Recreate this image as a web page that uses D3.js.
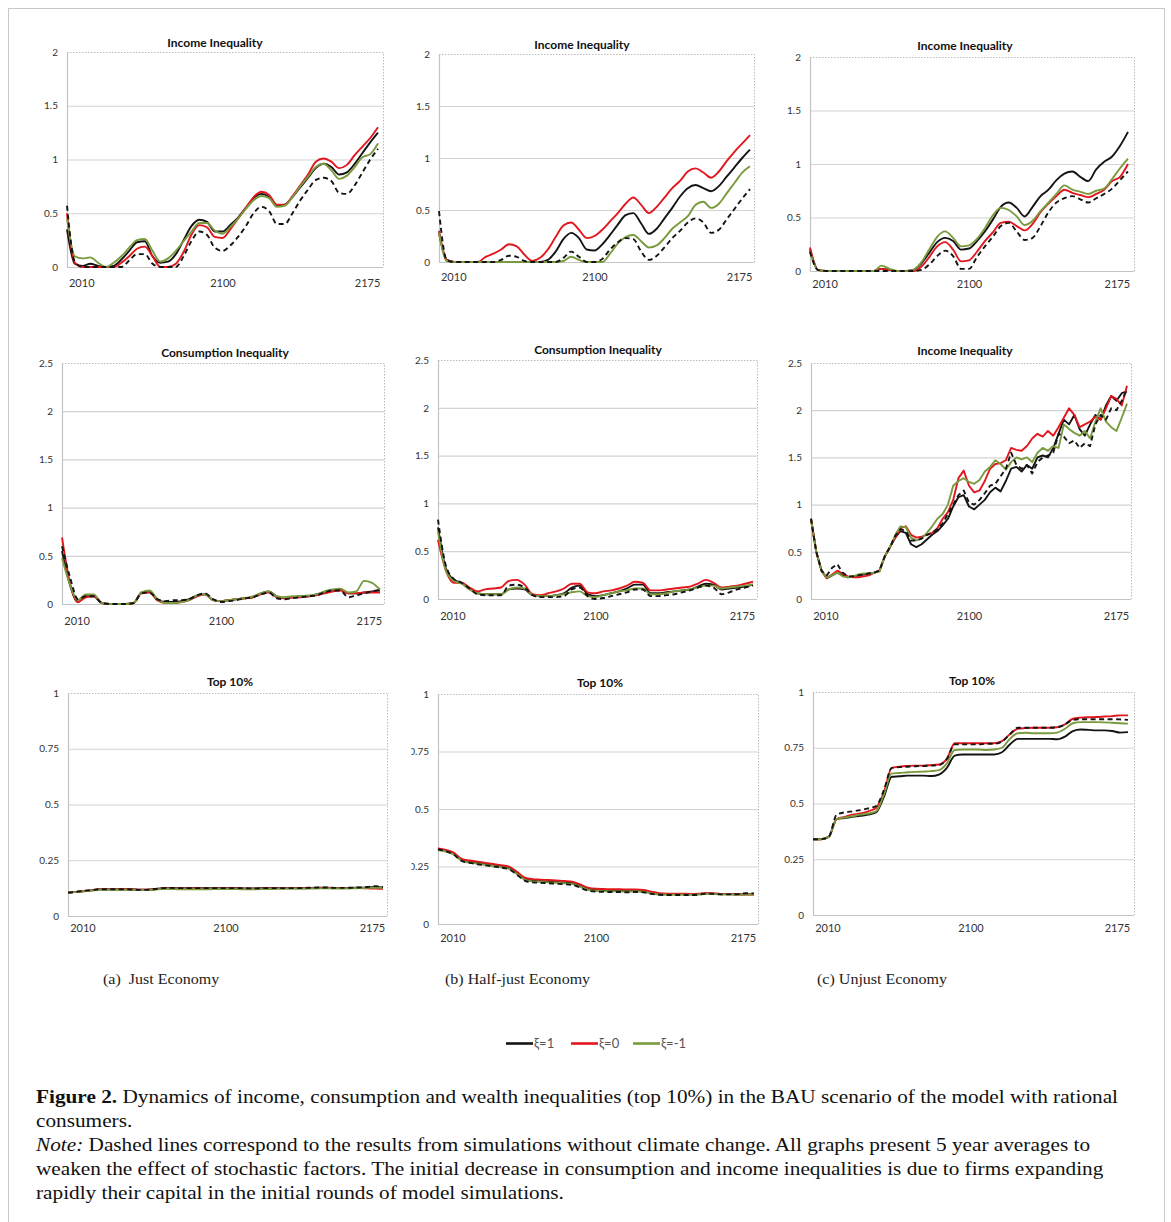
<!DOCTYPE html>
<html>
<head>
<meta charset="utf-8">
<script src="https://cdn.jsdelivr.net/npm/d3@7"></script>
<style>
  html, body { margin: 0; padding: 0; background: #fff; }
  svg { display: block; }
</style>
</head>
<body>
<svg id="fig" width="1171" height="1222"></svg>
<script>
// ---- series legend / economy labels ----
const seriesNames = ["ξ=1", "ξ=0", "ξ=-1"];
const economyLabels = ["(a)  Just Economy", "(b) Half-just Economy", "(c) Unjust Economy"];
const xTickLabels = ["2010", "2100", "2175"];
const xTickPeriods = [11, 120, 231.6];   // simulation period at which each year label sits

// smooth panels are sampled every 6 periods (41 points), the noisy panel every 4 (61 points)
const coarsePeriods = d3.range(0, 241, 6);
const finePeriods = d3.range(0, 241, 4);

// ---- (a) Just economy: income inequality ----
const justIncomeXi1 = [0.35,0.03,0.01,0.03,0.01,0,0.01,0.07,0.15,0.23,0.24,0.1,0.04,0.05,0.12,0.25,0.38,0.44,0.42,0.33,0.33,0.39,0.46,0.55,0.64,0.68,0.65,0.57,0.58,0.65,0.74,0.83,0.92,0.96,0.93,0.86,0.88,0.96,1.06,1.16,1.25];
const justIncomeXi0 = [0.5,0.04,0,0,0,0,0,0.04,0.1,0.17,0.19,0.1,0,0,0.03,0.14,0.3,0.39,0.37,0.28,0.27,0.35,0.45,0.55,0.65,0.7,0.67,0.58,0.58,0.66,0.76,0.86,0.98,1.01,0.98,0.92,0.95,1.04,1.12,1.2,1.3];
const justIncomeXiM1 = [0.45,0.1,0.08,0.09,0.04,0,0.04,0.1,0.18,0.25,0.26,0.15,0.05,0.08,0.15,0.24,0.33,0.41,0.41,0.34,0.31,0.37,0.45,0.54,0.62,0.66,0.64,0.56,0.57,0.65,0.75,0.84,0.93,0.96,0.9,0.82,0.85,0.93,1.02,1.05,1.15];
const justIncomeNoCC = [0.57,0.05,0,0,0,0,0,0,0.06,0.12,0.12,0.03,0,0,0,0.1,0.24,0.33,0.3,0.18,0.15,0.2,0.28,0.38,0.5,0.56,0.52,0.4,0.4,0.5,0.62,0.72,0.81,0.83,0.8,0.69,0.68,0.76,0.88,1.0,1.1];

// ---- (b) Half-just economy: income inequality ----
const halfIncomeXi1 = [0.28,0.02,0,0,0,0,0,0,0,0,0,0,0,0,0.02,0.1,0.22,0.28,0.23,0.12,0.11,0.17,0.26,0.36,0.45,0.47,0.37,0.27,0.32,0.42,0.52,0.63,0.71,0.74,0.71,0.68,0.73,0.82,0.91,1.0,1.08];
const halfIncomeXi0 = [0.3,0.02,0,0,0,0,0.05,0.08,0.12,0.17,0.15,0.07,0.01,0.04,0.12,0.24,0.35,0.38,0.31,0.23,0.25,0.31,0.39,0.47,0.56,0.62,0.55,0.47,0.53,0.62,0.71,0.78,0.87,0.9,0.86,0.81,0.87,0.97,1.06,1.14,1.22];
const halfIncomeXiM1 = [0.28,0.01,0,0,0,0,0,0,0,0,0,0,0,0,0,0,0.01,0.05,0.02,0,0,0,0.08,0.18,0.24,0.26,0.2,0.14,0.16,0.23,0.32,0.38,0.44,0.55,0.58,0.52,0.56,0.66,0.76,0.86,0.92];
const halfIncomeNoCC = [0.49,0.02,0,0,0,0,0,0,0.02,0.06,0.05,0.01,0,0,0,0,0.04,0.1,0.05,0,0,0.03,0.12,0.19,0.23,0.22,0.1,0.02,0.06,0.14,0.23,0.3,0.38,0.42,0.38,0.28,0.31,0.41,0.51,0.61,0.7];

// ---- (c) Unjust economy: income inequality ----
const unjustIncomeXi1 = [0.2,0.01,0,0,0,0,0,0,0,0.02,0.01,0,0,0.01,0.07,0.17,0.27,0.31,0.28,0.2,0.21,0.28,0.37,0.48,0.6,0.64,0.59,0.51,0.6,0.7,0.76,0.85,0.91,0.93,0.88,0.84,0.95,1.02,1.07,1.17,1.3];
const unjustIncomeXi0 = [0.22,0.01,0,0,0,0,0,0,0,0.02,0.01,0,0,0,0.04,0.13,0.23,0.27,0.2,0.09,0.1,0.18,0.28,0.36,0.45,0.46,0.42,0.38,0.44,0.55,0.63,0.7,0.76,0.73,0.71,0.69,0.72,0.76,0.84,0.88,1.0];
const unjustIncomeXiM1 = [0.18,0.01,0,0,0,0,0,0,0,0.05,0.02,0,0,0.01,0.08,0.2,0.32,0.37,0.31,0.23,0.24,0.3,0.4,0.52,0.59,0.57,0.51,0.43,0.47,0.56,0.64,0.72,0.8,0.76,0.74,0.72,0.75,0.77,0.86,0.96,1.05];
const unjustIncomeNoCC = [0.18,0.01,0,0,0,0,0,0,0,0,0,0,0,0,0.01,0.06,0.14,0.19,0.14,0.02,0.02,0.13,0.23,0.32,0.42,0.45,0.37,0.29,0.31,0.42,0.55,0.64,0.68,0.7,0.67,0.64,0.68,0.72,0.77,0.85,0.93];

// ---- (a) Just economy: consumption inequality ----
const justConsXi1 = [0.55,0.2,0.02,0.08,0.08,0.01,0,0,0,0.01,0.12,0.13,0.04,0.02,0.02,0.03,0.05,0.09,0.1,0.04,0.03,0.04,0.05,0.06,0.07,0.11,0.13,0.08,0.06,0.07,0.08,0.08,0.1,0.12,0.14,0.15,0.11,0.11,0.12,0.13,0.14];
const justConsXi0 = [0.69,0.22,0.02,0.07,0.08,0.01,0,0,0,0.01,0.11,0.12,0.04,0.01,0.01,0.02,0.04,0.08,0.1,0.04,0.03,0.04,0.05,0.06,0.07,0.1,0.12,0.07,0.06,0.07,0.07,0.08,0.09,0.11,0.13,0.14,0.11,0.11,0.12,0.12,0.12];
const justConsXiM1 = [0.48,0.2,0.04,0.1,0.1,0.01,0,0,0,0.01,0.12,0.14,0.05,0.01,0.01,0.02,0.04,0.09,0.1,0.04,0.03,0.04,0.05,0.06,0.08,0.11,0.13,0.08,0.07,0.08,0.08,0.09,0.1,0.13,0.15,0.16,0.12,0.13,0.24,0.22,0.15];
const justConsNoCC = [0.6,0.28,0.05,0.08,0.08,0.01,0,0,0,0.01,0.11,0.12,0.05,0.03,0.04,0.04,0.05,0.09,0.11,0.05,0.02,0.03,0.04,0.06,0.07,0.1,0.12,0.06,0.05,0.06,0.07,0.08,0.09,0.12,0.14,0.14,0.07,0.09,0.11,0.13,0.15];

// ---- (b) Half-just economy: consumption inequality ----
const halfConsXi1 = [0.75,0.32,0.2,0.17,0.11,0.06,0.05,0.05,0.05,0.1,0.11,0.1,0.04,0.03,0.03,0.04,0.06,0.12,0.14,0.05,0.03,0.04,0.06,0.08,0.11,0.15,0.15,0.06,0.06,0.07,0.08,0.09,0.1,0.13,0.16,0.15,0.1,0.11,0.12,0.13,0.15];
const halfConsXi0 = [0.62,0.3,0.17,0.17,0.12,0.08,0.1,0.11,0.12,0.19,0.2,0.15,0.05,0.04,0.06,0.08,0.11,0.16,0.16,0.07,0.06,0.08,0.09,0.11,0.14,0.18,0.17,0.09,0.09,0.1,0.11,0.12,0.13,0.16,0.2,0.17,0.12,0.13,0.14,0.16,0.18];
const halfConsXiM1 = [0.7,0.3,0.19,0.16,0.1,0.06,0.05,0.05,0.05,0.1,0.12,0.11,0.04,0.03,0.03,0.04,0.05,0.07,0.08,0.03,0.02,0.04,0.06,0.08,0.09,0.11,0.11,0.05,0.05,0.06,0.08,0.09,0.1,0.12,0.14,0.14,0.11,0.12,0.13,0.14,0.15];
const halfConsNoCC = [0.83,0.35,0.21,0.17,0.11,0.05,0.04,0.04,0.04,0.14,0.15,0.12,0.04,0.02,0.02,0.02,0.03,0.1,0.12,0.03,0,0.01,0.03,0.05,0.07,0.1,0.1,0.03,0.03,0.04,0.05,0.07,0.09,0.12,0.14,0.12,0.05,0.07,0.1,0.12,0.14];

// ---- (c) Unjust economy: income inequality, finer sampling ----
const unjustIncome2Xi1 = [0.85,0.5,0.3,0.22,0.25,0.28,0.25,0.23,0.24,0.25,0.26,0.27,0.28,0.3,0.45,0.55,0.65,0.72,0.7,0.58,0.55,0.58,0.63,0.68,0.72,0.78,0.85,0.98,1.08,1.1,0.98,0.95,1.0,1.05,1.13,1.18,1.14,1.25,1.38,1.4,1.35,1.42,1.38,1.5,1.52,1.5,1.6,1.75,1.9,1.85,1.95,1.8,1.73,1.85,1.95,1.9,2.05,2.15,2.1,2.18,2.2];
const unjustIncome2Xi0 = [0.85,0.5,0.3,0.22,0.26,0.3,0.27,0.24,0.23,0.23,0.24,0.25,0.28,0.3,0.45,0.55,0.65,0.75,0.77,0.68,0.65,0.66,0.68,0.7,0.75,0.85,0.92,1.05,1.28,1.36,1.2,1.13,1.15,1.25,1.38,1.43,1.44,1.47,1.6,1.58,1.57,1.62,1.7,1.75,1.72,1.78,1.73,1.82,1.92,2.02,1.95,1.82,1.85,1.88,1.93,1.9,2.02,2.15,2.12,2.05,2.26];
const unjustIncome2XiM1 = [0.85,0.5,0.3,0.23,0.25,0.28,0.24,0.23,0.24,0.26,0.27,0.27,0.28,0.29,0.45,0.55,0.68,0.77,0.76,0.65,0.62,0.64,0.7,0.77,0.85,0.9,1.0,1.2,1.25,1.28,1.24,1.22,1.26,1.35,1.4,1.47,1.43,1.37,1.45,1.5,1.48,1.5,1.45,1.55,1.6,1.57,1.62,1.6,1.85,1.8,1.76,1.73,1.78,1.7,1.88,2.02,1.88,1.82,1.78,1.92,2.07];
const unjustIncome2NoCC = [0.85,0.5,0.3,0.25,0.33,0.37,0.28,0.24,0.24,0.25,0.26,0.27,0.28,0.3,0.45,0.55,0.67,0.74,0.72,0.62,0.62,0.64,0.68,0.7,0.74,0.8,0.9,1.0,1.1,1.15,1.02,1.0,1.05,1.12,1.2,1.22,1.3,1.38,1.55,1.42,1.38,1.42,1.33,1.45,1.5,1.52,1.55,1.75,1.72,1.65,1.68,1.6,1.65,1.62,1.85,1.95,1.9,2.02,2.0,2.1,2.22];

// ---- (a) Just economy: wealth share of the top 10% ----
const justTopXi1 = [0.105,0.108,0.112,0.115,0.12,0.12,0.12,0.12,0.12,0.118,0.118,0.12,0.125,0.125,0.125,0.125,0.125,0.125,0.125,0.125,0.125,0.125,0.124,0.124,0.124,0.125,0.125,0.125,0.125,0.125,0.125,0.126,0.127,0.127,0.125,0.125,0.126,0.127,0.128,0.13,0.128];
const justTopXi0 = [0.105,0.108,0.112,0.115,0.12,0.12,0.12,0.12,0.12,0.118,0.118,0.12,0.124,0.124,0.124,0.124,0.123,0.123,0.122,0.123,0.124,0.124,0.123,0.122,0.122,0.123,0.124,0.124,0.125,0.125,0.125,0.125,0.126,0.126,0.125,0.125,0.125,0.125,0.124,0.123,0.122];
const justTopXiM1 = [0.105,0.107,0.11,0.114,0.118,0.118,0.118,0.118,0.118,0.116,0.116,0.118,0.121,0.121,0.12,0.12,0.12,0.12,0.12,0.121,0.121,0.121,0.12,0.12,0.12,0.121,0.121,0.122,0.122,0.122,0.122,0.123,0.124,0.124,0.123,0.123,0.124,0.125,0.126,0.127,0.127];
const justTopNoCC = [0.105,0.108,0.113,0.116,0.12,0.12,0.12,0.12,0.119,0.117,0.117,0.121,0.125,0.126,0.125,0.125,0.125,0.125,0.125,0.125,0.125,0.125,0.125,0.124,0.124,0.125,0.125,0.125,0.125,0.125,0.126,0.127,0.128,0.128,0.126,0.126,0.127,0.128,0.13,0.134,0.13];

// ---- (b) Half-just economy: wealth share of the top 10% ----
const halfTopXi1 = [0.325,0.318,0.305,0.278,0.27,0.265,0.26,0.255,0.25,0.243,0.22,0.195,0.188,0.186,0.184,0.182,0.18,0.177,0.165,0.152,0.147,0.146,0.145,0.145,0.144,0.144,0.143,0.136,0.131,0.13,0.13,0.13,0.129,0.13,0.133,0.132,0.13,0.13,0.129,0.13,0.13];
const halfTopXi0 = [0.328,0.322,0.31,0.283,0.276,0.271,0.266,0.261,0.256,0.249,0.227,0.201,0.195,0.193,0.191,0.189,0.187,0.184,0.172,0.158,0.153,0.152,0.151,0.151,0.15,0.15,0.148,0.14,0.134,0.132,0.132,0.132,0.131,0.132,0.134,0.133,0.131,0.13,0.128,0.128,0.127];
const halfTopXiM1 = [0.322,0.315,0.302,0.275,0.267,0.262,0.257,0.252,0.247,0.24,0.217,0.192,0.185,0.183,0.181,0.179,0.177,0.174,0.162,0.149,0.144,0.143,0.142,0.142,0.141,0.141,0.14,0.133,0.128,0.127,0.127,0.127,0.127,0.128,0.131,0.13,0.128,0.128,0.127,0.128,0.129];
const halfTopNoCC = [0.325,0.316,0.302,0.274,0.266,0.26,0.255,0.25,0.245,0.238,0.214,0.188,0.181,0.179,0.177,0.175,0.173,0.17,0.158,0.145,0.141,0.14,0.139,0.139,0.138,0.139,0.138,0.131,0.127,0.126,0.126,0.126,0.126,0.128,0.132,0.131,0.129,0.129,0.13,0.134,0.133];

// ---- (c) Unjust economy: wealth share of the top 10% ----
const unjustTopXi1 = [0.34,0.34,0.35,0.43,0.435,0.44,0.445,0.45,0.46,0.53,0.62,0.622,0.625,0.625,0.625,0.623,0.63,0.66,0.715,0.72,0.72,0.72,0.72,0.72,0.73,0.765,0.79,0.79,0.79,0.79,0.79,0.788,0.8,0.825,0.832,0.83,0.828,0.828,0.825,0.818,0.82];
const unjustTopXi0 = [0.34,0.34,0.35,0.43,0.44,0.45,0.455,0.465,0.48,0.55,0.66,0.665,0.668,0.67,0.67,0.672,0.675,0.7,0.77,0.77,0.77,0.77,0.77,0.77,0.78,0.81,0.835,0.838,0.84,0.84,0.84,0.842,0.855,0.88,0.885,0.887,0.888,0.89,0.892,0.895,0.895];
const unjustTopXiM1 = [0.34,0.34,0.35,0.43,0.437,0.443,0.45,0.455,0.465,0.54,0.635,0.637,0.64,0.642,0.643,0.645,0.65,0.68,0.74,0.742,0.742,0.742,0.74,0.742,0.75,0.79,0.815,0.817,0.815,0.815,0.815,0.818,0.835,0.86,0.865,0.865,0.865,0.864,0.862,0.86,0.858];
const unjustTopNoCC = [0.34,0.34,0.35,0.45,0.46,0.465,0.47,0.478,0.488,0.56,0.66,0.663,0.665,0.667,0.668,0.67,0.672,0.7,0.765,0.765,0.765,0.765,0.768,0.768,0.778,0.81,0.84,0.84,0.84,0.84,0.84,0.842,0.855,0.875,0.878,0.878,0.878,0.878,0.878,0.877,0.875];

// ---- drawing ----
const colors = { xi1: "#141414", xi0: "#e3161d", xiM1: "#7a9a3e", noCC: "#141414" };

const panels = [
  { title: "Income Inequality", yMax: 2, yStep: 0.5, box: [67, 52, 383, 267], lineEnd: 378, titleXY: [215, 43], labelY: 283,
    periods: coarsePeriods, curve: d3.curveMonotoneX, data: [justIncomeXi1, justIncomeXi0, justIncomeXiM1, justIncomeNoCC] },
  { title: "Income Inequality", yMax: 2, yStep: 0.5, box: [439, 54, 754, 262], lineEnd: 750, titleXY: [582, 45], labelY: 277,
    periods: coarsePeriods, curve: d3.curveMonotoneX, data: [halfIncomeXi1, halfIncomeXi0, halfIncomeXiM1, halfIncomeNoCC] },
  { title: "Income Inequality", yMax: 2, yStep: 0.5, box: [810, 57, 1134, 271], lineEnd: 1128, titleXY: [965, 46], labelY: 284,
    periods: coarsePeriods, curve: d3.curveMonotoneX, data: [unjustIncomeXi1, unjustIncomeXi0, unjustIncomeXiM1, unjustIncomeNoCC] },
  { title: "Consumption Inequality", yMax: 2.5, yStep: 0.5, box: [62, 363, 384, 604], lineEnd: 380, titleXY: [225, 353], labelY: 621,
    periods: coarsePeriods, curve: d3.curveMonotoneX, data: [justConsXi1, justConsXi0, justConsXiM1, justConsNoCC] },
  { title: "Consumption Inequality", yMax: 2.5, yStep: 0.5, box: [438, 360, 757, 599], lineEnd: 753, titleXY: [598, 350], labelY: 616,
    periods: coarsePeriods, curve: d3.curveMonotoneX, data: [halfConsXi1, halfConsXi0, halfConsXiM1, halfConsNoCC] },
  { title: "Income Inequality", yMax: 2.5, yStep: 0.5, box: [811, 363, 1131, 599], lineEnd: 1127, titleXY: [965, 351], labelY: 616,
    periods: finePeriods, curve: d3.curveLinear, data: [unjustIncome2Xi1, unjustIncome2Xi0, unjustIncome2XiM1, unjustIncome2NoCC] },
  { title: "Top 10%", yMax: 1, yStep: 0.25, box: [68, 693, 387, 916], lineEnd: 383, titleXY: [230, 682], labelY: 928,
    periods: coarsePeriods, curve: d3.curveMonotoneX, data: [justTopXi1, justTopXi0, justTopXiM1, justTopNoCC] },
  { title: "Top 10%", yMax: 1, yStep: 0.25, box: [438, 694, 758, 924], lineEnd: 754, titleXY: [600, 683], labelY: 938, clipLeft: 411.5,
    periods: coarsePeriods, curve: d3.curveMonotoneX, data: [halfTopXi1, halfTopXi0, halfTopXiM1, halfTopNoCC] },
  { title: "Top 10%", yMax: 1, yStep: 0.25, box: [813, 692, 1134, 915], lineEnd: 1128, titleXY: [972, 681], labelY: 928,
    periods: coarsePeriods, curve: d3.curveMonotoneX, data: [unjustTopXi1, unjustTopXi0, unjustTopXiM1, unjustTopNoCC] }
];

const svg = d3.select("#fig");
const chartFont = "Lato, 'Open Sans', 'DejaVu Sans', sans-serif";
const serifFont = "'Liberation Serif', 'DejaVu Serif', serif";

// outer frame of the figure
svg.append("rect").attr("x", 8.5).attr("y", 8.5).attr("width", 1156).attr("height", 1230)
  .attr("fill", "none").attr("stroke", "#c8c8c8").attr("stroke-width", 1);

const defs = svg.append("defs");

panels.forEach((p, i) => {
  const [L, T, R, B] = p.box;
  const x = d3.scaleLinear().domain([0, 240]).range([L, p.lineEnd]);
  const y = d3.scaleLinear().domain([0, p.yMax]).range([B, T]);
  const g = svg.append("g");

  // title
  g.append("text").attr("x", p.titleXY[0]).attr("y", p.titleXY[1]).attr("dy", "0.35em")
    .attr("text-anchor", "middle").attr("font-family", chartFont).attr("font-weight", 700)
    .attr("font-size", 12).attr("fill", "#111").text(p.title);

  const yTicks = d3.range(0, p.yMax + 1e-9, p.yStep);

  // horizontal grid
  g.append("g").selectAll("line").data(yTicks.filter(v => v > 0 && v < p.yMax)).join("line")
    .attr("x1", L).attr("x2", R).attr("y1", d => y(d) + 0.5).attr("y2", d => y(d) + 0.5)
    .attr("stroke", "#d4d4d4").attr("stroke-width", 1.2);

  // plot-area frame: dotted top/right, solid axes left/bottom
  g.append("path").attr("d", `M${L},${T + 0.5}H${R + 0.5}V${B}`)
    .attr("fill", "none").attr("stroke", "#a8a8a8").attr("stroke-width", 0.8).attr("stroke-dasharray", "1.5,1.5");
  g.append("path").attr("d", `M${L + 0.5},${T}V${B + 0.5}H${R}`)
    .attr("fill", "none").attr("stroke", "#c4c4c4").attr("stroke-width", 1.2);

  // y axis labels via d3 axis
  const yAxis = d3.axisLeft(y).tickValues(yTicks).tickSize(0).tickPadding(9).tickFormat(d => String(+d.toFixed(2)));
  const ya = g.append("g").attr("transform", `translate(${L},0)`).call(yAxis);
  ya.select(".domain").remove();
  ya.selectAll("text").attr("font-family", chartFont).attr("font-size", 10).attr("fill", "#333");
  if (p.clipLeft) {
    // clip rect lives in the axis group's own (translated) coordinates
    defs.append("clipPath").attr("id", "clip" + i)
      .append("rect").attr("x", p.clipLeft - L).attr("y", T - 30).attr("width", 200).attr("height", B - T + 60);
    ya.attr("clip-path", `url(#clip${i})`);
  }

  // x axis labels via d3 axis
  const xAxis = d3.axisBottom(x).tickValues(xTickPeriods).tickSize(0).tickPadding(0)
    .tickFormat((d, k) => xTickLabels[k]);
  const xa = g.append("g").attr("transform", `translate(0,${p.labelY})`).call(xAxis);
  xa.select(".domain").remove();
  xa.selectAll("text").attr("dy", "0.35em").attr("y", 0)
    .attr("font-family", chartFont).attr("font-size", 11).attr("fill", "#333");

  // series lines
  const styles = [
    { color: colors.xi1, dash: null },
    { color: colors.xi0, dash: null },
    { color: colors.xiM1, dash: null },
    { color: colors.noCC, dash: "5,3.5" }
  ];
  p.data.forEach((vals, s) => {
    const line = d3.line().x((d, k) => x(p.periods[k])).y(d => y(d)).curve(p.curve);
    g.append("path").datum(vals).attr("d", line)
      .attr("fill", "none").attr("stroke", styles[s].color).attr("stroke-width", 1.9)
      .attr("stroke-linejoin", "round")
      .attr("stroke-dasharray", styles[s].dash);
  });
});

// economy captions under each column
const captionX = [103, 445, 817];
svg.append("g").selectAll("text").data(economyLabels).join("text")
  .attr("transform", (d, i) => `translate(${captionX[i]},984) scale(1.07,1)`)
  .attr("font-family", serifFont).attr("font-size", 15).attr("fill", "#222")
  .attr("xml:space", "preserve").style("white-space", "pre").text(d => d);

// legend
const legendX = [506, 571, 633];
const legendColors = [colors.xi1, colors.xi0, colors.xiM1];
const lg = svg.append("g");
seriesNames.forEach((name, i) => {
  lg.append("line").attr("x1", legendX[i]).attr("x2", legendX[i] + 27)
    .attr("y1", 1043.5).attr("y2", 1043.5).attr("stroke", legendColors[i]).attr("stroke-width", 2.6);
  lg.append("text").attr("x", legendX[i] + 28).attr("y", 1043.5).attr("dy", "0.35em")
    .attr("font-family", chartFont).attr("font-size", 13).attr("fill", "#555").text(name);
});

// figure caption (set slightly wide, like the journal's serif face)
const cap = svg.append("g").attr("font-family", serifFont).attr("font-size", 19).attr("fill", "#111");
const capLines = [
  [{ t: "Figure 2.", w: 700 }, { t: " Dynamics of income, consumption and wealth inequalities (top 10%) in the BAU scenario of the model with rational" }],
  [{ t: "consumers." }],
  [{ t: "Note:", s: "italic" }, { t: " Dashed lines correspond to the results from simulations without climate change. All graphs present 5 year averages to" }],
  [{ t: "weaken the effect of stochastic factors. The initial decrease in consumption and income inequalities is due to firms expanding" }],
  [{ t: "rapidly their capital in the initial rounds of model simulations." }]
];
capLines.forEach((parts, i) => {
  const t = cap.append("text").attr("transform", `translate(36,${1103 + i * 24}) scale(1.12,1)`)
    .attr("xml:space", "preserve");
  parts.forEach(pt => {
    t.append("tspan").attr("font-weight", pt.w || 400).attr("font-style", pt.s || "normal").text(pt.t);
  });
});
</script>
</body>
</html>
